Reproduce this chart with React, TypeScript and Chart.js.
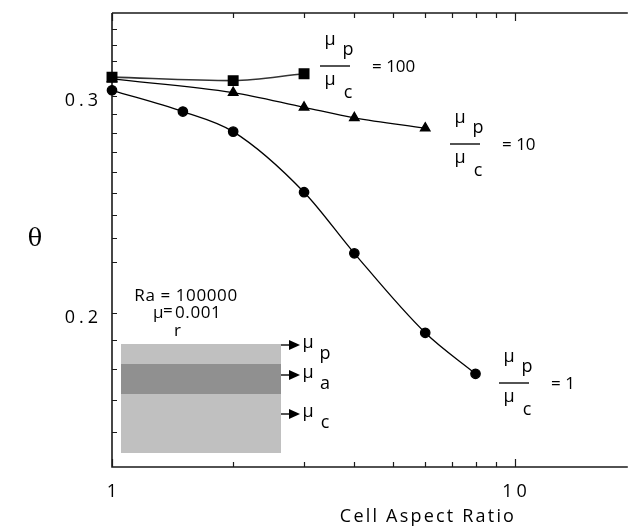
import React, { useEffect, useRef } from "react";
import { Chart, registerables } from "chart.js";

Chart.register(...registerables);

// ---- data ----
const ratio1X = [1, 1.5, 2, 3, 4, 6, 8];
const ratio1Y = [0.303, 0.2912, 0.2805, 0.2505, 0.2235, 0.1927, 0.1785];
const ratio10X = [1, 2, 3, 4, 6];
const ratio10Y = [0.3095, 0.3017, 0.2935, 0.2878, 0.2823];
const ratio100X = [1, 2, 3];
const ratio100Y = [0.3105, 0.3085, 0.3125];

// ---- axes ----
const xMin = 1;
const xMax = 18.9;
const yMin = 0.15;
const yMax = 0.35;
const xMajorTicks = [1, 10];
const xTickLabels = ["1", "10"];
const xMinorTicks = [2, 3, 4, 5, 6, 7, 8, 9];
const yMajorTicks = [0.2, 0.3];
const yTickLabels = ["0.2", "0.3"];
const yMinorTicks = [0.16, 0.17, 0.18, 0.19, 0.22, 0.23, 0.24, 0.25, 0.26, 0.27, 0.28, 0.29, 0.31, 0.32, 0.33, 0.34];
const xTitle = "Cell Aspect Ratio";
const yTitle = "\u03b8";

// ---- annotation text ----
const fracLabels = ["= 100", "= 10", "= 1"];
const raText = "Ra = 100000";
const muRText = "0.001";

const FONT = "'Open Sans', 'DejaVu Sans', sans-serif";

function toPts(xs: number[], ys: number[]) {
  return xs.map((x, i) => ({ x, y: ys[i] }));
}

const decorPlugin = {
  id: "decor",
  beforeDatasetsDraw(chart: any) {
    const ctx = chart.ctx as CanvasRenderingContext2D;
    const xs = chart.scales.x;
    const ys = chart.scales.y;
    const { left, right, top, bottom } = chart.chartArea;
    ctx.save();
    ctx.strokeStyle = "#1a1a1a";
    ctx.fillStyle = "#000";

    // inset schematic
    const bx0 = left + 9, bx1 = left + 169;
    const by0 = 344, by1 = 453;
    ctx.fillStyle = "#c0c0c0";
    ctx.fillRect(bx0, by0, bx1 - bx0, by1 - by0);
    ctx.fillStyle = "#909090";
    ctx.fillRect(bx0, 364, bx1 - bx0, 30);

    // axis lines
    ctx.lineWidth = 1.6;
    ctx.beginPath();
    ctx.moveTo(left, top);
    ctx.lineTo(right + 2, top);
    ctx.moveTo(left, top);
    ctx.lineTo(left, bottom);
    ctx.lineTo(right + 2, bottom);
    ctx.stroke();

    // ticks
    ctx.lineWidth = 1.2;
    ctx.beginPath();
    xMinorTicks.forEach((v) => {
      const px = Math.round(xs.getPixelForValue(v)) + 0.5;
      ctx.moveTo(px, bottom); ctx.lineTo(px, bottom - 5);
      ctx.moveTo(px, top); ctx.lineTo(px, top + 5);
    });
    xMajorTicks.forEach((v) => {
      const px = Math.round(xs.getPixelForValue(v)) + 0.5;
      ctx.moveTo(px, bottom); ctx.lineTo(px, bottom - 8);
      ctx.moveTo(px, top); ctx.lineTo(px, top + 8);
    });
    yMinorTicks.concat(yMajorTicks).forEach((v) => {
      const py = Math.round(ys.getPixelForValue(v)) + 0.5;
      ctx.moveTo(left, py); ctx.lineTo(left + 5, py);
    });
    ctx.stroke();

    // tick labels
    ctx.fillStyle = "#000";
    (ctx as any).letterSpacing = "4px";
    ctx.font = `18px ${FONT}`;
    ctx.textBaseline = "alphabetic";
    ctx.textAlign = "center";
    xMajorTicks.forEach((v, i) => {
      const px = xs.getPixelForValue(v);
      ctx.fillText(xTickLabels[i], px + 2, bottom + 30);
    });
    ctx.textAlign = "right";
    yMajorTicks.forEach((v, i) => {
      const py = ys.getPixelForValue(v);
      ctx.fillText(yTickLabels[i], left - 10, py + 10);
    });
    (ctx as any).letterSpacing = "2.2px";
    ctx.textAlign = "center";
    ctx.font = `18px ${FONT}`;
    ctx.fillText(xTitle, 428, 522);
    (ctx as any).letterSpacing = "0px";
    ctx.font = "24px 'DejaVu Serif', 'Liberation Serif', serif";
    ctx.fillText(yTitle, 35, 246);

    // fraction labels
    const frac = (X: number, L: number, label: string) => {
      ctx.font = `18px ${FONT}`;
      ctx.textAlign = "center";
      ctx.fillText("\u03bc", X + 10, L - 21);
      ctx.fillText("p", X + 28, L - 11);
      ctx.fillText("\u03bc", X + 10, L + 19);
      ctx.fillText("c", X + 28, L + 32);
      ctx.lineWidth = 1.5;
      ctx.beginPath();
      ctx.moveTo(X, L); ctx.lineTo(X + 30, L);
      ctx.stroke();
      ctx.font = `17px ${FONT}`;
      ctx.textAlign = "left";
      ctx.fillText(label, X + 52, L + 6);
    };
    frac(320, 66, fracLabels[0]);
    frac(450, 144, fracLabels[1]);
    frac(499, 383, fracLabels[2]);

    // Ra text
    ctx.font = `17px ${FONT}`;
    (ctx as any).letterSpacing = "0.6px";
    ctx.textAlign = "center";
    ctx.fillText(raText, 186, 301);
    ctx.textAlign = "left";
    ctx.fillText("\u03bc", 153, 318);
    ctx.fillText("=", 163, 316);
    ctx.fillText(muRText, 175, 318);
    ctx.fillText("r", 174, 336);
    (ctx as any).letterSpacing = "0px";

    // arrows + inset labels
    const arrowYs = [345, 375, 414];
    const subs = ["p", "a", "c"];
    arrowYs.forEach((ay, i) => {
      ctx.lineWidth = 1.5;
      ctx.beginPath();
      ctx.moveTo(bx1, ay); ctx.lineTo(bx1 + 10, ay);
      ctx.stroke();
      ctx.beginPath();
      ctx.moveTo(bx1 + 8, ay - 5);
      ctx.lineTo(bx1 + 19, ay);
      ctx.lineTo(bx1 + 8, ay + 5);
      ctx.closePath();
      ctx.fill();
      ctx.font = `18px ${FONT}`;
      ctx.textAlign = "center";
      ctx.fillText("\u03bc", bx1 + 27, ay + 3);
      ctx.fillText(subs[i], bx1 + 44, ay + 14);
    });
    ctx.restore();
  },
};

export default function App() {
  const ref = useRef<HTMLCanvasElement | null>(null);
  useEffect(() => {
    document.body.style.margin = "0";
    if (!ref.current) return;
    const common = {
      borderColor: "#000",
      backgroundColor: "#000",
      pointBackgroundColor: "#000",
      pointBorderColor: "#000",
      borderWidth: 1.3,
      cubicInterpolationMode: "monotone" as const,
      clip: false as const,
      fill: false,
    };
    const chart = new Chart(ref.current, {
      type: "line",
      data: {
        datasets: [
          { ...common, label: "1", data: toPts(ratio1X, ratio1Y), pointStyle: "circle", pointRadius: 4.7 },
          { ...common, label: "10", data: toPts(ratio10X, ratio10Y), pointStyle: "triangle", pointRadius: 5.5 },
          { ...common, label: "100", data: toPts(ratio100X, ratio100Y), pointStyle: "rect", pointRadius: 6.6, borderColor: "#333", borderWidth: 1.6 },
        ],
      },
      options: {
        animation: false,
        responsive: false,
        devicePixelRatio: 1,
        layout: { padding: { left: 112, top: 13, right: 1, bottom: 60 } },
        plugins: { legend: { display: false }, tooltip: { enabled: false } },
        scales: {
          x: { type: "logarithmic", min: xMin, max: xMax, display: false },
          y: { type: "logarithmic", min: yMin, max: yMax, display: false },
        },
      },
      plugins: [decorPlugin],
    });
    return () => chart.destroy();
  }, []);
  return (
    <div style={{ width: 634, height: 527 }}>
      <canvas ref={ref} width={634} height={527} style={{ display: "block" }} />
    </div>
  );
}
